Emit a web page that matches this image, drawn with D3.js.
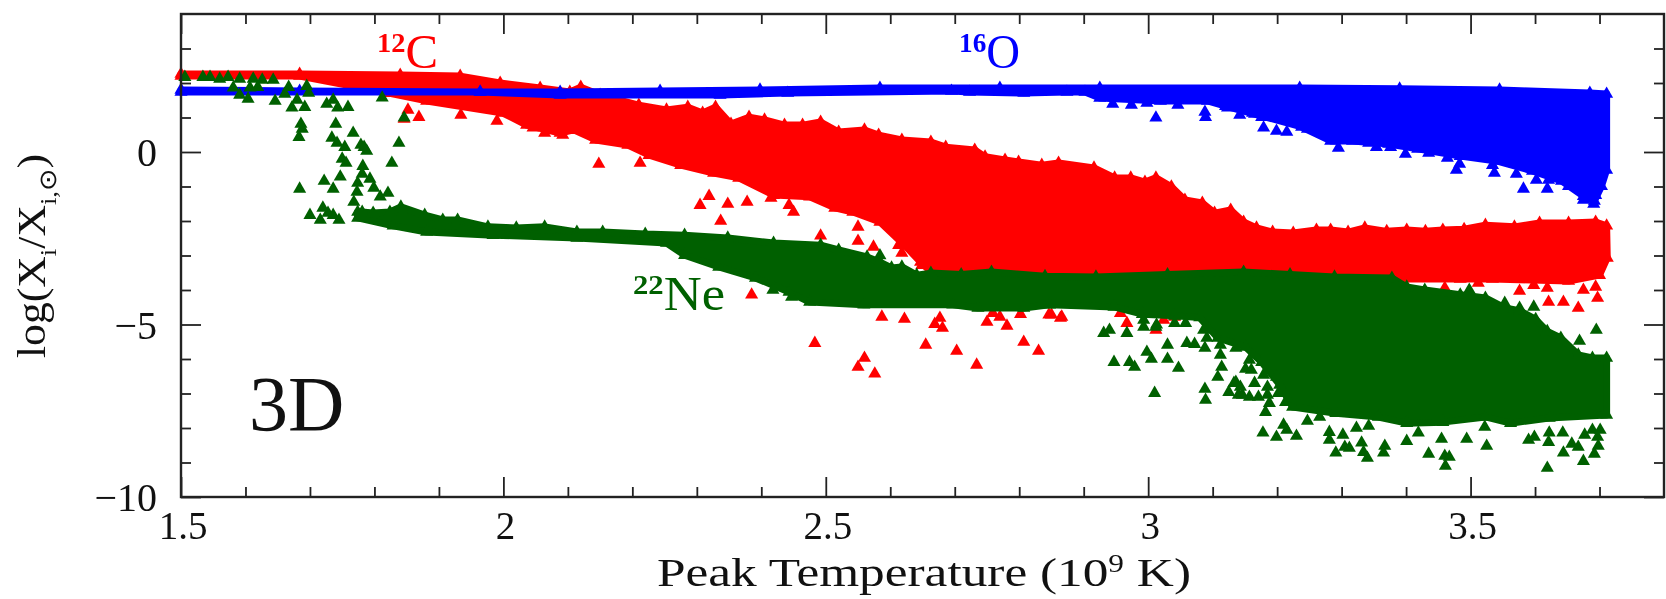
<!DOCTYPE html>
<html>
<head>
<meta charset="utf-8">
<script src="https://d3js.org/d3.v7.min.js"></script>
<style>
html, body { margin: 0; padding: 0; background: #fff; }
svg { display: block; filter: blur(0.55px); }
text { font-family: "Liberation Serif", serif; fill: #111; }
</style>
</head>
<body>
<div id="chart"></div>
<script>
// values: [peak temperature, log abundance]
var xMajor = [1.5, 2, 2.5, 3, 3.5];
var xMinor = [1.6, 1.7, 1.8, 1.9, 2.1, 2.2, 2.3, 2.4, 2.6, 2.7, 2.8, 2.9, 3.1, 3.2, 3.3, 3.4, 3.6, 3.7];
var yMajor = [-10, -5, 0];
var yMinor = [-9, -8, -7, -6, -4, -3, -2, -1, 1, 2, 3];

// dense part of each cloud, outer edges
var redUpper = [[1.5,2.26],[1.684,2.26],[1.84,2.23],[1.933,2.2],[1.995,2.0],[2.057,1.855],[2.103,1.74],[2.12,1.88],[2.15,1.65],[2.21,1.36],[2.253,1.22],[2.286,1.3],[2.309,1.13],[2.329,1.3],[2.353,0.81],[2.381,1.01],[2.405,0.93],[2.436,0.78],[2.464,0.78],[2.492,0.87],[2.52,0.58],[2.56,0.64],[2.582,0.49],[2.618,0.35],[2.663,0.29],[2.686,0.14],[2.731,0.06],[2.747,-0.14],[2.778,-0.23],[2.799,-0.29],[2.835,-0.38],[2.861,-0.32],[2.916,-0.46],[2.948,-0.75],[2.973,-0.75],[2.995,-0.87],[3.012,-0.75],[3.036,-1.01],[3.057,-1.39],[3.084,-1.48],[3.103,-1.77],[3.128,-1.68],[3.148,-2.03],[3.168,-2.2],[3.193,-2.32],[3.225,-2.35],[3.261,-2.26],[3.283,-2.26],[3.31,-2.32],[3.336,-2.2],[3.37,-2.3],[3.401,-2.26],[3.43,-2.3],[3.457,-2.26],[3.49,-2.24],[3.523,-2.12],[3.568,-2.17],[3.607,-2.06],[3.652,-2.06],[3.694,-2.03],[3.711,-2.14]];
var redLower = [[1.5,2.2],[1.684,2.2],[1.824,1.7],[1.881,1.48],[1.999,1.13],[2.036,0.78],[2.088,0.55],[2.109,0.64],[2.143,0.35],[2.193,0.2],[2.226,-0.09],[2.275,-0.38],[2.326,-0.61],[2.365,-0.75],[2.419,-1.25],[2.475,-1.3],[2.514,-1.62],[2.542,-1.74],[2.584,-2.03],[2.622,-2.7],[2.647,-3.19],[2.669,-3.57],[2.77,-3.86],[3.235,-3.8],[3.39,-3.68],[3.484,-3.68],[3.534,-3.68],[3.652,-3.74],[3.7,-3.57],[3.712,-3.07]];
var blueUpper = [[1.5,1.8],[1.684,1.77],[1.964,1.74],[2.088,1.74],[2.243,1.77],[2.398,1.8],[2.584,1.855],[2.77,1.855],[2.925,1.855],[3.235,1.855],[3.39,1.83],[3.545,1.8],[3.685,1.71],[3.711,1.68]];
var blueLower = [[1.5,1.74],[1.964,1.74],[2.088,1.65],[2.336,1.65],[2.441,1.71],[2.695,1.77],[2.723,1.74],[2.807,1.71],[2.874,1.74],[2.902,1.74],[2.925,1.565],[3.019,1.48],[3.092,1.48],[3.12,1.33],[3.165,1.1],[3.238,0.725],[3.283,0.32],[3.317,0.32],[3.373,0.23],[3.418,0.09],[3.484,-0.12],[3.54,-0.26],[3.596,-0.55],[3.641,-0.84],[3.675,-1.28],[3.692,-1.42],[3.703,-0.99],[3.711,-0.52]];
var greenUpper = [[1.774,-1.74],[1.781,-1.74],[1.798,-1.77],[1.824,-1.74],[1.841,-1.59],[1.878,-1.83],[1.906,-1.97],[1.929,-1.97],[1.976,-2.17],[2.02,-2.2],[2.064,-2.17],[2.114,-2.32],[2.154,-2.32],[2.22,-2.38],[2.281,-2.41],[2.348,-2.49],[2.419,-2.64],[2.492,-2.7],[2.52,-2.84],[2.564,-3.04],[2.584,-3.19],[2.602,-3.36],[2.618,-3.33],[2.641,-3.57],[2.663,-3.51],[2.71,-3.55],[2.757,-3.48],[2.84,-3.6],[2.919,-3.62],[3.03,-3.55],[3.148,-3.48],[3.22,-3.55],[3.289,-3.62],[3.378,-3.65],[3.401,-3.91],[3.429,-4.0],[3.484,-4.14],[3.523,-4.23],[3.553,-4.52],[3.576,-4.6],[3.601,-4.85],[3.619,-5.2],[3.64,-5.39],[3.667,-5.88],[3.689,-5.97],[3.711,-5.97]];
var greenLower = [[1.774,-1.91],[1.829,-2.14],[1.881,-2.32],[1.984,-2.41],[2.114,-2.49],[2.253,-2.64],[2.281,-2.99],[2.334,-3.33],[2.391,-3.65],[2.443,-4.06],[2.475,-4.35],[2.559,-4.43],[2.697,-4.43],[2.736,-4.52],[2.807,-4.52],[2.847,-4.43],[2.947,-4.49],[2.991,-4.7],[3.041,-4.75],[3.08,-4.8],[3.108,-5.39],[3.151,-5.65],[3.176,-6.09],[3.204,-6.75],[3.224,-7.39],[3.291,-7.57],[3.357,-7.68],[3.401,-7.86],[3.457,-7.83],[3.523,-7.68],[3.562,-7.86],[3.622,-7.71],[3.711,-7.62]];

// single triangles outside the dense part
var redPoints = [[1.852,1.22],[1.846,0.96],[1.869,1.01],[1.934,1.07],[1.99,0.9],[2.046,0.7],[2.064,0.55],[2.092,0.49],[2.148,-0.35],[2.212,-0.32],[2.319,-1.28],[2.305,-1.54],[2.348,-1.51],[2.378,-1.45],[2.337,-2.0],[2.415,-1.33],[2.443,-1.54],[2.45,-1.74],[2.492,-2.43],[2.55,-2.17],[2.55,-2.58],[2.574,-2.75],[2.613,-2.7],[2.618,-2.93],[2.649,-3.28],[2.385,-4.14],[2.587,-4.78],[2.622,-4.84],[2.677,-4.81],[2.669,-4.99],[2.681,-5.1],[2.75,-4.93],[2.759,-4.67],[2.77,-4.78],[2.781,-5.04],[2.802,-4.7],[2.846,-4.72],[2.866,-4.78],[2.483,-5.54],[2.56,-5.97],[2.55,-6.23],[2.576,-6.43],[2.655,-5.59],[2.703,-5.77],[2.734,-6.17],[2.807,-5.51],[2.83,-5.77],[2.85,-4.72],[2.864,-4.81],[2.967,-4.96],[2.957,-4.67],[3.012,-5.16],[3.024,-4.87],[3.041,-4.78],[3.621,-4.35],[3.644,-4.35],[3.667,-4.52],[3.675,-4.0],[3.697,-4.23],[3.619,-3.94],[3.694,-3.91],[3.598,-3.86],[3.46,-3.94],[3.512,-3.8],[3.576,-4.03]];
var bluePoints = [[2.945,1.39],[2.974,1.36],[2.998,1.42],[3.046,1.36],[3.123,1.28],[3.162,1.13],[3.176,1.01],[3.012,0.99],[3.088,1.16],[3.089,1.01],[3.142,1.07],[3.179,0.7],[3.199,0.61],[3.215,0.58],[3.247,0.67],[3.295,0.12],[3.342,0.26],[3.354,0.14],[3.376,0.14],[3.399,-0.06],[3.421,0.14],[3.435,-0.03],[3.464,-0.17],[3.483,-0.35],[3.478,-0.52],[3.534,-0.38],[3.537,-0.61],[3.571,-0.64],[3.582,-1.07],[3.602,-0.81],[3.619,-1.07],[3.621,-0.81],[3.652,-0.99],[3.675,-1.39],[3.691,-1.51],[3.694,-1.25]];
var greenPoints = [[1.506,2.17],[1.534,2.17],[1.545,2.17],[1.56,2.12],[1.573,2.17],[1.591,2.12],[1.581,1.86],[1.591,1.65],[1.604,1.54],[1.612,2.12],[1.626,2.09],[1.619,1.88],[1.607,1.86],[1.643,2.09],[1.646,1.48],[1.667,1.88],[1.661,1.68],[1.695,1.91],[1.698,1.71],[1.68,1.51],[1.672,1.28],[1.692,1.3],[1.726,1.39],[1.736,1.51],[1.743,1.28],[1.759,1.3],[1.812,1.57],[1.686,0.81],[1.688,0.67],[1.683,0.43],[1.74,0.81],[1.767,0.55],[1.734,0.41],[1.742,0.26],[1.754,0.14],[1.779,0.2],[1.784,0.14],[1.788,0.03],[1.846,0.99],[1.838,0.26],[1.827,-0.32],[1.75,-0.2],[1.756,-0.32],[1.782,-0.41],[1.781,-0.64],[1.747,-0.72],[1.722,-0.84],[1.684,-1.07],[1.736,-1.07],[1.774,-0.9],[1.773,-1.16],[1.793,-0.78],[1.799,-1.04],[1.809,-1.3],[1.821,-1.19],[1.768,-1.45],[1.7,-1.83],[1.72,-1.62],[1.716,-1.97],[1.728,-1.77],[1.736,-1.83],[1.745,-1.97],
  [2.584,-3.0],[2.418,-4.0],[2.447,-4.2],[2.931,-5.25],[2.94,-5.16],[2.967,-5.25],[2.993,-5.07],[3.012,-5.07],[3.03,-5.59],[3.06,-5.54],[3.072,-5.57],[3.088,-5.68],[2.998,-5.8],[3.005,-6.0],[3.03,-6.0],[3.047,-6.26],[2.947,-6.09],[2.971,-6.09],[2.979,-6.23],[3.01,-6.99],[3.088,-6.87],[3.089,-7.19],[3.108,-6.52],[3.114,-6.23],[3.151,-6.29],[3.125,-6.96],[3.136,-6.67],[3.14,-7.04],[3.157,-7.1],[3.171,-7.1],[3.185,-7.04],[3.182,-7.54],[3.178,-8.14],[3.199,-8.26],[3.21,-7.91],[3.215,-8.06],[3.23,-8.23],[3.247,-7.8],[3.266,-7.68],[3.281,-8.12],[3.281,-8.35],[3.302,-8.2],[3.291,-8.72],[3.305,-8.55],[3.312,-8.58],[3.331,-8.43],[3.334,-8.7],[3.34,-8.87],[3.323,-8.0],[3.342,-7.94],[3.365,-8.72],[3.367,-8.52],[3.401,-8.38],[3.419,-8.14],[3.435,-8.75],[3.455,-8.32],[3.46,-8.81],[3.467,-8.84],[3.461,-9.1],[3.494,-8.32],[3.525,-8.52],[3.522,-7.97],[3.59,-8.35],[3.599,-8.26],[3.619,-9.16],[3.621,-8.41],[3.622,-8.14],[3.643,-8.14],[3.644,-8.72],[3.667,-8.55],[3.677,-8.2],[3.675,-8.96],[3.692,-8.75],[3.697,-8.26],[3.689,-8.06],[3.698,-8.52],[3.657,-8.46],[3.701,-8.06],[3.695,-5.16],[3.669,-5.48],[3.498,-4.0],
  [3.112,-5.88],[3.136,-5.68],[3.157,-6.03],[3.16,-6.32],[3.165,-6.7],[3.179,-6.46],[3.185,-6.81],[3.199,-6.52],[3.202,-6.99],[3.213,-7.25],[3.146,-7.04],[3.133,-6.7],[3.143,-6.81],[3.188,-7.28],[2.993,-4.87],[3.013,-5.01],[3.041,-4.96],[3.058,-4.96],[3.086,-5.16],[3.091,-5.39],[3.112,-5.59],[3.553,-4.38],[3.576,-4.52],[3.598,-4.49]];

var RED = "#ff0000", BLUE = "#0000ff", GREEN = "#006000";

var width = 1666, height = 599;
var left = 181, right = 1664, top_ = 14, bottom = 497;

var svg = d3.select("#chart").append("svg")
    .attr("width", width)
    .attr("height", height);

var x = d3.scaleLinear().domain([1.5, 3.8]).range([left, right]);
var y = d3.scaleLinear().domain([-10, 4]).range([bottom, top_]);

var outline = d3.line().x(d => x(d[0])).y(d => y(d[1]));
var tri = d3.symbol().type(d3.symbolTriangle).size(74);

function drawCloud(upper, lower, points, color) {
    let g = svg.append("g");
    let ring = upper.concat(lower.slice().reverse());

    g.append("path")
        .attr("d", outline(ring) + "Z")
        .attr("fill", color)
        .attr("stroke", color)
        .attr("stroke-width", 7)
        .attr("stroke-linejoin", "round");

    g.selectAll("path.tri")
        .data(ring.concat(points))
        .join("path")
        .attr("class", "tri")
        .attr("d", tri)
        .attr("fill", color)
        .attr("transform", d => `translate(${x(d[0])},${y(d[1])})`);
}

drawCloud(redUpper, redLower, redPoints, RED);
drawCloud(blueUpper, blueLower, bluePoints, BLUE);
drawCloud(greenUpper, greenLower, greenPoints, GREEN);

// axes, ticks on all four sides
function frame(axis, pos, values, size) {
    let g = svg.append("g")
        .attr("transform", pos)
        .call(axis.tickValues(values).tickSize(size).tickFormat(""));
    g.select(".domain").remove();
    g.selectAll("line").attr("stroke", "#222").attr("stroke-width", 1.8);
}

frame(d3.axisTop(x), `translate(0,${bottom})`, xMajor, 20);
frame(d3.axisTop(x), `translate(0,${bottom})`, xMinor, 10);
frame(d3.axisBottom(x), `translate(0,${top_})`, xMajor, 20);
frame(d3.axisBottom(x), `translate(0,${top_})`, xMinor, 10);
frame(d3.axisRight(y), `translate(${left},0)`, yMajor, 20);
frame(d3.axisRight(y), `translate(${left},0)`, yMinor, 10);
frame(d3.axisLeft(y), `translate(${right},0)`, yMajor, 20);
frame(d3.axisLeft(y), `translate(${right},0)`, yMinor, 10);

svg.append("rect")
    .attr("x", left).attr("y", top_)
    .attr("width", right - left).attr("height", bottom - top_)
    .attr("fill", "none")
    .attr("stroke", "#222")
    .attr("stroke-width", 2.4);

// tick labels
svg.selectAll("text.xl").data(xMajor).join("text")
    .attr("class", "xl")
    .attr("x", d => x(d) + 2)
    .attr("y", 539)
    .attr("text-anchor", "middle")
    .style("font-size", "39px")
    .text(d => d);

svg.selectAll("text.yl").data(yMajor).join("text")
    .attr("class", "yl")
    .attr("x", 157)
    .attr("y", d => y(d) + 14)
    .attr("text-anchor", "end")
    .style("font-size", "40px")
    .text(d => d3.format("d")(d));

// axis titles, stretched to the wide face of the original
var xTitle = svg.append("text")
    .attr("x", 657).attr("y", 586)
    .attr("textLength", 534)
    .attr("lengthAdjust", "spacingAndGlyphs")
    .style("font-size", "41px");
xTitle.append("tspan").text("Peak Temperature (10");
xTitle.append("tspan").attr("dy", -14).style("font-size", "25px").text("9");
xTitle.append("tspan").attr("dy", 14).text(" K)");

var yTitle = svg.append("text")
    .attr("transform", "translate(45,358) rotate(-90)")
    .attr("textLength", 204)
    .attr("lengthAdjust", "spacingAndGlyphs")
    .style("font-size", "39px");
yTitle.append("tspan").text("log(X");
yTitle.append("tspan").attr("dy", 11).style("font-size", "24px").text("i");
yTitle.append("tspan").attr("dy", -11).text("/X");
yTitle.append("tspan").attr("dy", 11).style("font-size", "24px").text("i,⊙");
yTitle.append("tspan").attr("dy", -11).text(")");

// series names
function isoLabel(px, py, len, mass, name, color) {
    let t = svg.append("text")
        .attr("x", px).attr("y", py)
        .attr("textLength", len)
        .attr("lengthAdjust", "spacingAndGlyphs")
        .style("font-size", "48px").style("fill", color);
    t.append("tspan").attr("dy", -16).style("font-size", "28px").style("font-weight", "bold").text(mass);
    t.append("tspan").attr("dy", 16).text(name);
}
isoLabel(377, 68, 61, "12", "C", RED);
isoLabel(959, 68, 61, "16", "O", BLUE);
isoLabel(633, 310, 92, "22", "Ne", GREEN);

svg.append("text")
    .attr("x", 249).attr("y", 430)
    .style("font-size", "78px")
    .text("3D");
</script>
</body>
</html>
